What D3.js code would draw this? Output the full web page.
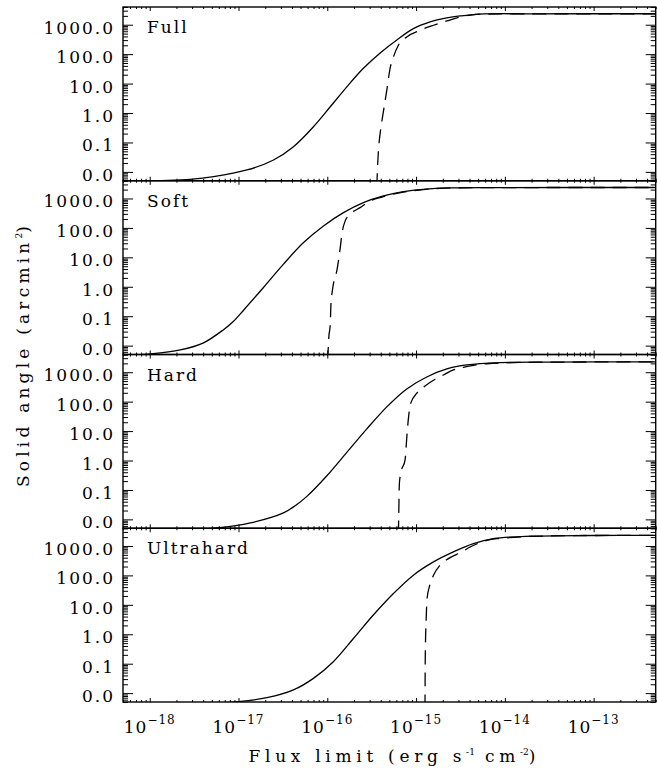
<!DOCTYPE html>
<html>
<head>
<meta charset="utf-8">
<script src="https://cdn.jsdelivr.net/npm/d3@7"></script>
<style>
  body { margin: 0; background: #fff; }
  text { font-family: "DejaVu Serif", serif; fill: #000; }
</style>
</head>
<body>
<div id="chart"></div>
<script>
const width = 657;
const height = 769;
const margin = { top: 7, right: 1.3, bottom: 67, left: 123 };

// band names, one panel each
const bands = ["Full", "Soft", "Hard", "Ultrahard"];

// axis ticks
const fluxTicks = [1e-18, 1e-17, 1e-16, 1e-15, 1e-14, 1e-13];
const fluxTickExponents = ["\u221218", "\u221217", "\u221216", "\u221215", "\u221214", "\u221213"];
const angleTicks = [0.01, 0.1, 1, 10, 100, 1000];
const angleTickLabels = ["0.0", "0.1", "1.0", "10.0", "100.0", "1000.0"];

// [flux limit, solid angle]
const fullSolid = [
  [5e-19, 0.0045], [1.2e-18, 0.005], [2.86e-18, 0.0056], [5.24e-18, 0.0069],
  [1.245e-17, 0.0116], [2.48e-17, 0.0254], [4.16e-17, 0.0718], [6.98e-17, 0.342],
  [1.08e-16, 1.63], [1.66e-16, 7.76], [2.55e-16, 33], [3.94e-16, 110],
  [6.07e-16, 304], [9.33e-16, 735], [1.44e-15, 1241], [2.22e-15, 1694],
  [3.13e-15, 1982], [5.25e-15, 2300], [2e-14, 2350], [5e-13, 2360]
];
const fullDashed = [
  [3.61e-16, 0.003], [3.67e-16, 0.0116], [3.77e-16, 0.0555], [3.94e-16, 0.203],
  [4.11e-16, 0.506], [4.37e-16, 1.63], [4.68e-16, 6.0], [5.09e-16, 32.4],
  [5.56e-16, 80.7], [6.32e-16, 201], [7.85e-16, 385], [1.11e-15, 649],
  [1.57e-15, 959], [2.22e-15, 1340], [3.13e-15, 1832], [5.25e-15, 2280],
  [2e-14, 2350], [5e-13, 2360]
];

const softSolid = [
  [5e-19, 0.0045], [1.01e-18, 0.0052], [2.21e-18, 0.0072], [4.04e-18, 0.0125],
  [6.78e-18, 0.0349], [8.79e-18, 0.0678], [1.14e-17, 0.16], [1.91e-17, 0.948],
  [3.21e-17, 5.89], [5.40e-17, 31.8], [9.06e-17, 117], [1.52e-16, 330],
  [2.55e-16, 721], [4.29e-16, 1216], [7.20e-16, 1702], [1.2e-15, 2050],
  [2.5e-15, 2300], [1e-14, 2350], [5e-13, 2360]
];
const softDashed = [
  [1.01e-16, 0.003], [1.04e-16, 0.0191], [1.08e-16, 0.0545], [1.10e-16, 0.259],
  [1.14e-16, 0.733], [1.19e-16, 1.6], [1.28e-16, 3.49], [1.40e-16, 21.5],
  [1.46e-16, 61.2], [1.59e-16, 173], [1.81e-16, 292], [2.34e-16, 488],
  [3.03e-16, 824], [4.29e-16, 1150], [7.20e-16, 1650], [1.2e-15, 2000],
  [2.5e-15, 2290], [1e-14, 2350], [5e-13, 2360]
];

const hardSolid = [
  [3e-18, 0.0045], [5.71e-18, 0.0051], [1.36e-17, 0.0076], [3.21e-17, 0.0166],
  [4.35e-17, 0.0292], [5.89e-17, 0.0605], [9.89e-17, 0.304], [1.66e-16, 1.9],
  [2.79e-16, 11.9], [4.68e-16, 66.4], [7.85e-16, 271], [1.32e-15, 690],
  [2.22e-15, 1289], [3.72e-15, 1762], [8.81e-15, 2109], [3e-14, 2200], [5e-13, 2250]
];
const hardDashed = [
  [6.32e-16, 0.003], [6.38e-16, 0.0145], [6.49e-16, 0.172], [6.73e-16, 0.376],
  [7.52e-16, 1.06], [7.73e-16, 3.0], [7.98e-16, 11], [8.28e-16, 35.6],
  [8.71e-16, 89], [1.02e-15, 194], [1.26e-15, 342], [1.64e-15, 577],
  [2.03e-15, 807], [2.63e-15, 1194], [3.40e-15, 1472], [4.42e-15, 1700],
  [6.25e-15, 1940], [1.5e-14, 2150], [3e-14, 2200], [5e-13, 2250]
];

const ultrahardSolid = [
  [5e-18, 0.0045], [1.0e-17, 0.00515], [2.09e-17, 0.0070], [4.16e-17, 0.0129],
  [6.98e-17, 0.0318], [1.17e-16, 0.117], [1.97e-16, 0.72], [3.30e-16, 4.5],
  [5.56e-16, 24.2], [9.33e-16, 102], [1.57e-15, 287], [2.63e-15, 627],
  [4.42e-15, 1197], [7.41e-15, 1770], [2e-14, 2150], [1e-13, 2270], [5e-13, 2280]
];
const ultrahardDashed = [
  [1.26e-15, 0.003], [1.27e-15, 0.197], [1.30e-15, 3.4], [1.33e-15, 16.4],
  [1.41e-15, 40.7], [1.57e-15, 102], [1.86e-15, 222], [2.31e-15, 371],
  [3.27e-15, 627], [4.06e-15, 925], [5.50e-15, 1367], [6.81e-15, 1650],
  [8.81e-15, 1800], [2e-14, 2120], [1e-13, 2270], [5e-13, 2280]
];

const solidCurves = [fullSolid, softSolid, hardSolid, ultrahardSolid];
const dashedCurves = [fullDashed, softDashed, hardDashed, ultrahardDashed];

const plotW = width - margin.left - margin.right;
const plotH = height - margin.top - margin.bottom;
const panelH = plotH / bands.length;

const svg = d3
  .select("#chart")
  .append("svg")
  .attr("width", width)
  .attr("height", height);

const xScale = d3
  .scaleLog()
  .domain([5e-19, 5e-13])
  .range([margin.left, margin.left + plotW]);

// minor ticks at 2..9 of each decade
function minorTicks(lo, hi) {
  const out = [];
  for (let e = Math.floor(Math.log10(lo)); e <= Math.ceil(Math.log10(hi)); e++) {
    for (let m = 2; m <= 9; m++) {
      const v = m * Math.pow(10, e);
      if (v >= lo && v <= hi) out.push(v);
    }
  }
  return out;
}
const xMinor = minorTicks(5e-19, 5e-13);
const yMinor = minorTicks(0.005, 4000);

bands.forEach((band, i) => {
  const top = margin.top + i * panelH;
  const bottom = top + panelH;

  const yScale = d3.scaleLog().domain([0.005, 4000]).range([bottom, top]);

  const g = svg.append("g");

  // clip for the curves
  svg
    .append("clipPath")
    .attr("id", `clip${i}`)
    .append("rect")
    .attr("x", margin.left)
    .attr("y", top)
    .attr("width", plotW)
    .attr("height", panelH);

  const smoothLine = d3
    .line()
    .x((d) => xScale(d[0]))
    .y((d) => yScale(d[1]))
    .curve(d3.curveCatmullRom.alpha(0.5));

  const steepLine = d3
    .line()
    .x((d) => xScale(d[0]))
    .y((d) => yScale(d[1]))
    .curve(d3.curveMonotoneX);

  g.append("path")
    .datum(solidCurves[i])
    .attr("clip-path", `url(#clip${i})`)
    .attr("fill", "none")
    .attr("stroke", "#000")
    .attr("stroke-width", 1.3)
    .attr("d", smoothLine);

  g.append("path")
    .datum(dashedCurves[i])
    .attr("clip-path", `url(#clip${i})`)
    .attr("fill", "none")
    .attr("stroke", "#000")
    .attr("stroke-width", 1.3)
    .attr("stroke-dasharray", "14,8")
    .attr("d", steepLine);

  // inward ticks on all four sides
  const axes = [
    [() => d3.axisRight(yScale), `translate(${margin.left},0)`, angleTicks, yMinor, 10, 5],
    [() => d3.axisLeft(yScale), `translate(${margin.left + plotW},0)`, angleTicks, yMinor, 10, 5],
    [() => d3.axisTop(xScale), `translate(0,${bottom})`, fluxTicks, xMinor, 4, 2],
    [() => d3.axisBottom(xScale), `translate(0,${top})`, fluxTicks, xMinor, 4, 2],
  ];
  axes.forEach(([makeAxis, tr, major, minor, big, small]) => {
    const a = g.append("g").attr("transform", tr);
    a.append("g").call(makeAxis().tickValues(major).tickSize(big).tickFormat(""));
    a.append("g").call(makeAxis().tickValues(minor).tickSize(small).tickFormat(""));
    a.selectAll(".domain").remove();
    a.selectAll("line").attr("stroke-width", 1);
  });

  g.append("rect")
    .attr("x", margin.left)
    .attr("y", top)
    .attr("width", plotW)
    .attr("height", panelH)
    .attr("fill", "none")
    .attr("stroke", "#000")
    .attr("stroke-width", 1.4);

  // y tick labels
  g.selectAll(".ylab")
    .data(angleTicks)
    .enter()
    .append("text")
    .attr("x", margin.left - 8)
    .attr("y", (d) => yScale(d) + 9)
    .attr("text-anchor", "end")
    .attr("font-size", 17)
    .attr("letter-spacing", 2)
    .text((d, j) => angleTickLabels[j]);

  g.append("text")
    .attr("x", margin.left + 24)
    .attr("y", top + 26)
    .attr("font-size", 17)
    .attr("letter-spacing", 2)
    .text(band);
});

// x tick labels with superscript exponents
const xLab = svg
  .selectAll(".xlab")
  .data(fluxTicks)
  .enter()
  .append("text")
  .attr("x", (d) => xScale(d))
  .attr("y", margin.top + plotH + 31)
  .attr("text-anchor", "middle")
  .attr("font-size", 17)
  .attr("letter-spacing", 1);
xLab.append("tspan").text("10");
xLab
  .append("tspan")
  .attr("dy", -9)
  .attr("font-size", 12)
  .text((d, j) => fluxTickExponents[j]);

// axis titles
const xTitle = svg
  .append("text")
  .attr("x", margin.left + plotW / 2 + 5)
  .attr("y", 762)
  .attr("text-anchor", "middle")
  .attr("font-size", 17)
  .attr("letter-spacing", 4.7);
xTitle.append("tspan").text("Flux limit (erg s");
xTitle.append("tspan").attr("dy", -7).attr("font-size", 9).attr("letter-spacing", 0).text("-1");
xTitle.append("tspan").attr("dy", 7).text(" cm");
xTitle.append("tspan").attr("dy", -7).attr("font-size", 9).attr("letter-spacing", 0).text("-2");
xTitle.append("tspan").attr("dy", 7).text(")");

const yTitle = svg
  .append("text")
  .attr("transform", `translate(28.5,${margin.top + plotH / 2}) rotate(-90)`)
  .attr("text-anchor", "middle")
  .attr("font-size", 17)
  .attr("letter-spacing", 4.2);
yTitle.append("tspan").text("Solid angle (arcmin");
yTitle.append("tspan").attr("dy", -7).attr("font-size", 9).attr("letter-spacing", 0).text("2");
yTitle.append("tspan").attr("dy", 7).text(")");
</script>
</body>
</html>
